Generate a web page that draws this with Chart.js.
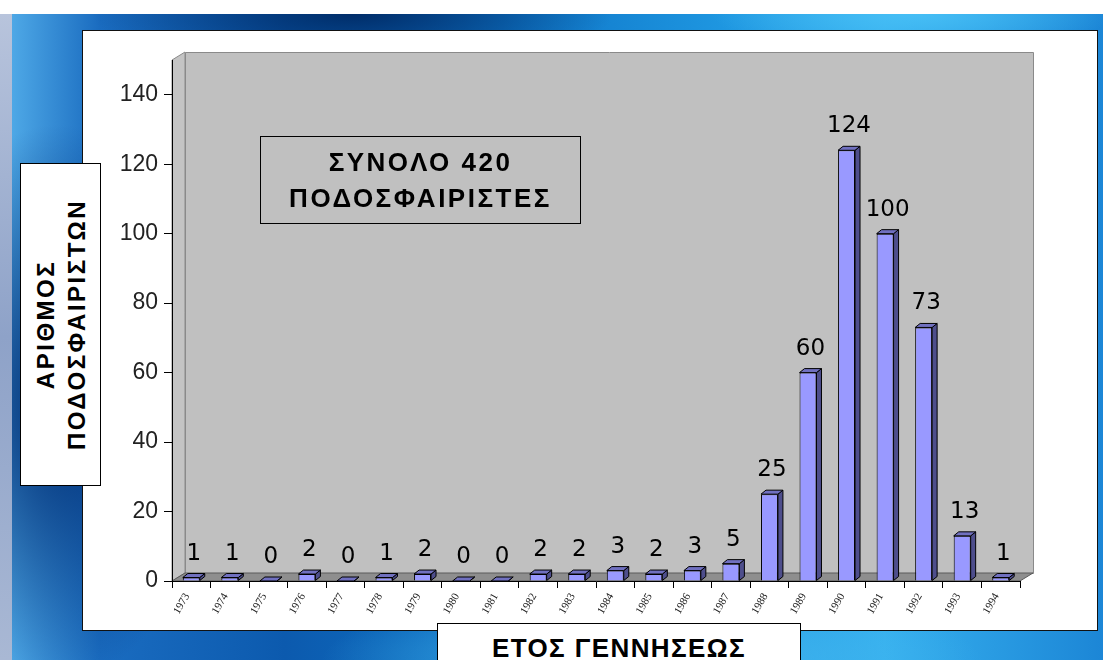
<!DOCTYPE html>
<html><head><meta charset="utf-8">
<script src="https://cdn.jsdelivr.net/npm/chart.js@4/dist/chart.umd.min.js"></script>
<style>
html,body{margin:0;padding:0;width:1103px;height:660px;overflow:hidden;background:#fff;}
#edge{position:absolute;left:0;top:14px;width:12px;height:646px;background:linear-gradient(180deg,#b8c4dc,#8ea2c8 50%,#a9b8d4);}
#bg{position:absolute;left:12px;top:14px;width:1091px;height:646px;
 background:
 radial-gradient(ellipse 260px 60px at 340px 0px, rgba(0,45,105,1), rgba(0,45,105,0)),
 radial-gradient(ellipse 160px 280px at 45px 390px, rgba(0,45,115,1), rgba(0,45,115,0)),
 radial-gradient(ellipse 330px 70px at 640px 646px, rgba(70,185,240,1), rgba(70,185,240,0)),
 radial-gradient(ellipse 200px 40px at 900px 0px, rgba(70,190,245,1), rgba(70,190,245,0)),
 linear-gradient(90deg,#4ea8e6 0%,#1a6cc0 8%,#0c5aae 25%,#0e74c6 45%,#1e96e0 65%,#36b0ee 80%,#1c86d6 100%);}
#panel{position:absolute;left:82px;top:30px;width:1014px;height:599px;background:#fff;border:1px solid #111;}
#cv{position:absolute;left:0;top:0;}
.box{position:absolute;border:1px solid #000;font-family:"Liberation Sans",Arial,sans-serif;font-weight:bold;color:#000;box-sizing:border-box;}
#ytitle{left:20px;top:163px;width:81px;height:323px;background:#fff;}
#ytitle .in{position:absolute;width:321px;height:79px;left:-121px;top:121px;transform:rotate(-90deg);display:flex;flex-direction:column;justify-content:center;align-items:center;font-size:24px;line-height:31px;letter-spacing:2.5px;}
#total{left:260px;top:136px;width:321px;height:88px;display:flex;flex-direction:column;justify-content:center;align-items:center;font-size:26px;line-height:36px;letter-spacing:2.5px;}
#xtitle{left:437px;top:623px;width:364px;height:60px;background:#fff;text-align:center;font-size:26px;line-height:30px;padding-top:9px;letter-spacing:1.4px;}
</style></head>
<body>
<div id="edge"></div>
<div id="bg"></div>
<div id="panel"></div>
<canvas id="cv" width="1103" height="660"></canvas>
<div class="box" id="ytitle"><div class="in"><div>ΑΡΙΘΜΟΣ</div><div>ΠΟΔΟΣΦΑΙΡΙΣΤΩΝ</div></div></div>
<div class="box" id="total"><div>ΣΥΝΟΛΟ 420</div><div>ΠΟΔΟΣΦΑΙΡΙΣΤΕΣ</div></div>
<div class="box" id="xtitle">ΕΤΟΣ ΓΕΝΝΗΣΕΩΣ</div>
<script>
const years = ['1973','1974','1975','1976','1977','1978','1979','1980','1981','1982','1983','1984','1985','1986','1987','1988','1989','1990','1991','1992','1993','1994'];
const players = [1,1,0,2,0,1,2,0,0,2,2,3,2,3,5,25,60,124,100,73,13,1];
const yTicks = [0,20,40,60,80,100,120,140];
const yMax = 150;

const WALL = {dx:13, dy:-8};
const BAR3D = {dx:5, dy:-4};

const wallsPlugin = {
  id:'walls',
  beforeDraw(chart){
    const {ctx, chartArea} = chart;
    const {left,right,top,bottom} = chartArea;
    const {dx,dy} = WALL;
    ctx.save();
    ctx.lineWidth = 1;
    ctx.fillStyle = '#c0c0c0';
    ctx.strokeStyle = '#8a8a8a';
    ctx.beginPath(); ctx.rect(left+dx+0.5, top+dy+0.5, right-left, bottom-top); ctx.fill(); ctx.stroke();
    ctx.beginPath();
    ctx.moveTo(left,bottom); ctx.lineTo(left,top); ctx.lineTo(left+dx,top+dy); ctx.lineTo(left+dx,bottom+dy); ctx.closePath();
    ctx.fillStyle = '#c4c4c4'; ctx.fill(); ctx.strokeStyle = '#8a8a8a'; ctx.stroke();
    ctx.beginPath();
    ctx.moveTo(left,bottom); ctx.lineTo(right,bottom); ctx.lineTo(right+dx,bottom+dy); ctx.lineTo(left+dx,bottom+dy); ctx.closePath();
    ctx.fillStyle = '#8e8e8e'; ctx.fill(); ctx.strokeStyle = '#5a5a5a'; ctx.stroke();
    ctx.restore();
  }
};

const bar3dPlugin = {
  id:'bar3d',
  afterDatasetsDraw(chart){
    const {ctx} = chart;
    const meta = chart.getDatasetMeta(0);
    const {dx,dy} = BAR3D;
    ctx.save();
    ctx.lineWidth = 1;
    ctx.strokeStyle = '#000';
    meta.data.forEach((bar,i)=>{
      const p = bar.getProps(['x','y','width','base'], true);
      const l = p.x - p.width/2, r = p.x + p.width/2, t = p.y, b = p.base;
      ctx.beginPath();
      ctx.moveTo(r,t); ctx.lineTo(r+dx,t+dy); ctx.lineTo(r+dx,b+dy); ctx.lineTo(r,b); ctx.closePath();
      ctx.fillStyle = '#4e4e8c'; ctx.fill(); ctx.stroke();
      ctx.beginPath();
      ctx.moveTo(l,t); ctx.lineTo(l+dx,t+dy); ctx.lineTo(r+dx,t+dy); ctx.lineTo(r,t); ctx.closePath();
      ctx.fillStyle = '#7070c0'; ctx.fill(); ctx.stroke();
      ctx.fillStyle = '#000';
      ctx.font = '23px "DejaVu Sans"';
      ctx.textAlign = 'center';
      ctx.textBaseline = 'alphabetic';
      ctx.fillText(String(players[i]), p.x + dx/2, t - 18);
    });
    ctx.restore();
  }
};

new Chart(document.getElementById('cv'), {
  type:'bar',
  data:{
    labels: years,
    datasets:[{data: players, backgroundColor:'#9999ff', borderColor:'#000', borderWidth:1, barPercentage:0.44, categoryPercentage:1}]
  },
  plugins:[wallsPlugin, bar3dPlugin],
  options:{
    responsive:false,
    animation:false,
    layout:{padding:{left:82,right:83,top:60,bottom:0}},
    plugins:{legend:{display:false}, tooltip:{enabled:false}},
    scales:{
      x:{
        grid:{display:true, drawOnChartArea:false, drawTicks:true, tickLength:7, color:'#000', offset:true},
        border:{display:true, color:'#000', width:1},
        ticks:{minRotation:60, maxRotation:60, autoSkip:false, font:{family:'Liberation Serif', size:11}, color:'#222', padding:3, labelOffset:-4},
        afterFit(s){ s.height = 79; }
      },
      y:{
        min:0, max:yMax,
        afterBuildTicks(s){ s.ticks = yTicks.map(v=>({value:v})); },
        grid:{drawOnChartArea:false, drawTicks:true, tickLength:8, color:'#000'},
        border:{display:true, color:'#000', width:1},
        ticks:{font:{family:'Liberation Sans', size:23}, color:'#222', padding:6},
        afterFit(s){ s.width = 90; }
      }
    }
  }
});
</script>
</body></html>
